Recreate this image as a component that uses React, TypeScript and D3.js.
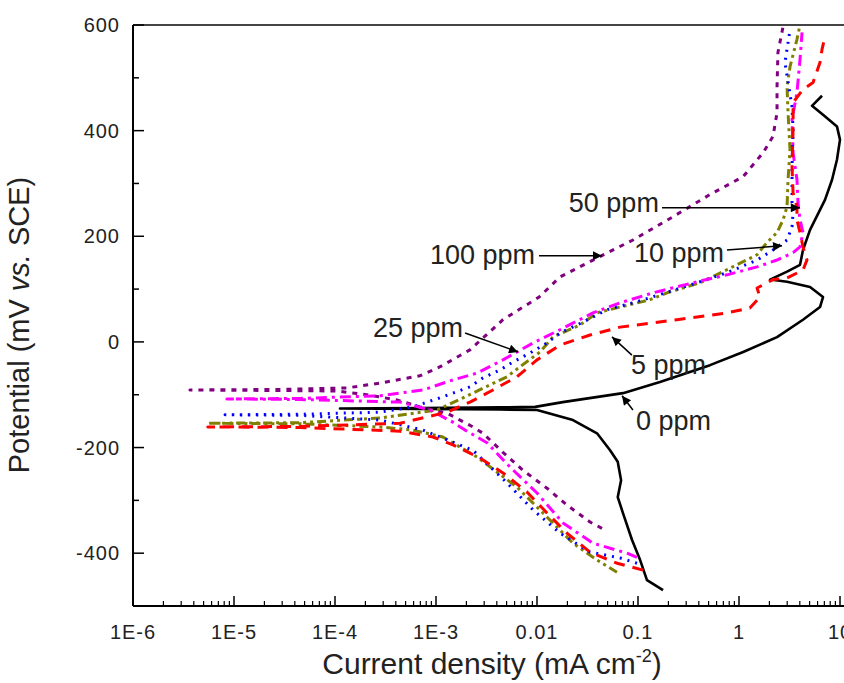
import React from 'react';
import * as d3 from 'd3';

const W = 844;
const H = 683;
const M = { left: 133, right: 840, top: 25, bottom: 606 };

const X_TICKS = [1e-6, 1e-5, 1e-4, 1e-3, 0.01, 0.1, 1, 10];
const X_TICK_LABELS = ['1E-6', '1E-5', '1E-4', '1E-3', '0.01', '0.1', '1', '10'];
const Y_TICKS = [-400, -200, 0, 200, 400, 600];
const Y_MINOR = [-500, -300, -100, 100, 300, 500];

// 0 ppm (black)
const ppm0I = [0.177, 0.1227, 0.105, 0.0873, 0.071, 0.063, 0.068, 0.063, 0.0529, 0.0393, 0.0227, 0.01, 0.0043, 6.9e-4, 1.12e-4, 6.9e-4, 0.0043, 0.0096, 0.018, 0.071, 0.165, 0.516, 1.1, 2.38, 4.3, 6.34, 6.79, 5.05, 2.99, 2.03, 2.99, 4.02, 4.3, 5.05, 7.1, 8.34, 9.33, 10.0, 9.33, 6.79, 5.28, 6.64];
const ppm0E = [-470, -451, -413, -375, -324, -294, -262, -227, -205, -173, -148, -129, -128, -127, -126, -125, -124, -123, -114, -97, -76, -44, -19, 9, 42, 66, 85, 104, 114, 118, 133, 146, 174, 212, 269, 307, 345, 383, 408, 430, 447, 466];

// 5 ppm (red)
const ppm5I = [0.1122, 0.0619, 0.0335, 0.0198, 0.01256, 7.96e-3, 4.6e-3, 2.73e-3, 1.47e-3, 9.33e-4, 4.41e-4, 4.5e-5, 5.5e-6, 4.5e-5, 4.41e-4, 1.29e-3, 2.17e-3, 3.66e-3, 6.34e-3, 0.01, 0.0169, 0.0335, 0.0664, 0.141, 0.243, 0.384, 0.76, 1.28, 1.61, 1.51, 2.17, 2.99, 4.3, 4.71, 4.3, 4.02, 3.75, 3.75, 3.43, 3.35, 3.43, 3.43, 4.3, 5.41, 6.34, 6.64, 7.1];
const ppm5E = [-432, -419, -398, -362, -324, -284, -248, -220, -195, -180, -169, -162, -161, -160, -154, -133, -114, -91, -66, -34, -6, 13, 28, 36, 42, 47, 55, 64, 85, 102, 118, 121, 136, 155, 180, 207, 231, 256, 282, 332, 402, 453, 478, 491, 529, 554, 578];

// 10 ppm (blue)
const ppm10I = [0.0977, 0.0664, 0.0335, 0.0169, 9.12e-3, 5.05e-3, 2.32e-3, 1.47e-3, 7.43e-4, 2.79e-4, 4.5e-5, 8.15e-6, 4.5e-5, 2.79e-4, 5.92e-4, 1.17e-3, 2.17e-3, 2.92e-3, 4.31e-3, 5.78e-3, 8.53e-3, 0.01256, 0.0169, 0.0249, 0.0358, 0.0493, 0.0977, 0.384, 0.76, 1.51, 2.17, 2.99, 3.35, 3.43, 3.35, 3.35, 3.43, 3.35, 2.85, 3.2];
const ppm10E = [-419, -409, -398, -362, -318, -267, -205, -190, -167, -148, -139, -138, -137, -133, -123, -104, -85, -68, -53, -38, -21, -2, 17, 32, 47, 61, 76, 112, 131, 155, 174, 193, 218, 245, 264, 332, 402, 445, 529, 591];

// 25 ppm (magenta)
const ppm25I = [0.0977, 0.0778, 0.0358, 0.0181, 0.01, 5.41e-3, 3.2e-3, 1.94e-3, 1.47e-3, 8.73e-4, 4.41e-4, 4.5e-5, 8.5e-6, 4.5e-5, 2.79e-4, 7.43e-4, 1.47e-3, 2.55e-3, 4.6e-3, 6.34e-3, 9.12e-3, 0.0169, 0.0358, 0.0664, 0.141, 0.351, 0.76, 1.51, 2.38, 3.43, 4.02, 4.3, 4.02, 3.84, 3.75, 3.43, 3.35, 3.75, 4.02, 4.21];
const ppm25E = [-408, -400, -381, -343, -286, -237, -191, -167, -152, -129, -114, -109, -108, -107, -102, -91, -72, -59, -34, -19, -2, 23, 55, 74, 93, 112, 127, 142, 155, 169, 180, 207, 231, 264, 307, 358, 421, 472, 535, 586];

// 50 ppm (olive)
const ppm50I = [0.0619, 0.0393, 0.0227, 0.01146, 6.34e-3, 2.55e-3, 1.17e-3, 5.92e-4, 2.79e-4, 4.5e-5, 5.5e-6, 4.5e-5, 2.79e-4, 1.02e-3, 1.85e-3, 3.13e-3, 5.05e-3, 6.79e-3, 0.01072, 0.0144, 0.0267, 0.0393, 0.0664, 0.1315, 0.194, 0.411, 0.955, 1.51, 1.89, 2.38, 2.73, 2.99, 3.06, 3.2, 3.06, 2.99, 3.2, 3.75, 4.02];
const ppm50E = [-436, -413, -381, -324, -275, -218, -180, -167, -161, -155, -154, -153, -144, -129, -106, -85, -66, -47, -19, 9.5, 32, 55, 66, 80, 93, 112, 146, 165, 188, 207, 231, 256, 307, 364, 434, 483, 521, 573, 600];

// 100 ppm (purple)
const ppm100I = [0.044, 0.0335, 0.0198, 0.01256, 7.26e-3, 4.6e-3, 2.92e-3, 2.32e-3, 1.73e-3, 1.29e-3, 6.95e-4, 4.11e-4, 2.07e-4, 1.05e-4, 2.85e-5, 3.66e-6, 2.85e-5, 1.32e-4, 2.79e-4, 6.95e-4, 1.1e-3, 2.17e-3, 4.6e-3, 0.0105, 0.0169, 0.0358, 0.0891, 0.222, 0.516, 1.1, 1.73, 2.17, 2.38, 2.38, 2.43, 2.73];
const ppm100E = [-353, -341, -309, -277, -243, -209, -173, -161, -148, -135, -123, -110, -100, -93, -92, -91, -90, -87, -78, -64, -47, -15, 42, 85, 123, 155, 193, 237, 279, 313, 358, 389, 434, 483, 548, 597];

const SERIES = [
  { name: '0 ppm', I: ppm0I, E: ppm0E, color: '#000000', dash: 'none', width: 2.6 },
  { name: '100 ppm', I: ppm100I, E: ppm100E, color: '#800080', dash: '5,6', width: 3 },
  { name: '50 ppm', I: ppm50I, E: ppm50E, color: '#808000', dash: '9,4,3,4,3,4', width: 3 },
  { name: '10 ppm', I: ppm10I, E: ppm10E, color: '#0000ff', dash: '2,6', width: 3 },
  { name: '25 ppm', I: ppm25I, E: ppm25E, color: '#ff00ff', dash: '11,5,3,5', width: 3 },
  { name: '5 ppm', I: ppm5I, E: ppm5E, color: '#ff0000', dash: '11,8', width: 3 },
];

const ANNOTATIONS = [
  { text: '50 ppm', tx: 0.161, ty: 263, anchor: 'end', from: [0.173, 254], to: [4.0, 254] },
  { text: '100 ppm', tx: 0.00955, ty: 165, anchor: 'end', from: [0.01047, 163], to: [0.044, 163] },
  { text: '10 ppm', tx: 0.71, ty: 169, anchor: 'end', from: [0.76, 174], to: [2.67, 182] },
  { text: '25 ppm', tx: 0.00185, ty: 28, anchor: 'end', from: [0.00194, 17], to: [0.00649, -19] },
  { text: '5 ppm', tx: 0.0853, ty: -42, anchor: 'start', from: [0.087, -25], to: [0.0553, 9.5] },
  { text: '0 ppm', tx: 0.0955, ty: -148, anchor: 'start', from: [0.0891, -129], to: [0.0695, -102] },
];

const FONT = "'Liberation Sans', Arial, sans-serif";

export default function App() {
  const x = d3.scaleLog().domain([1e-6, 10]).range([M.left, M.right]);
  const y = d3.scaleLinear().domain([-500, 600]).range([M.bottom, M.top]);
  const line = d3
    .line<[number, number]>()
    .x((d) => x(d[0]))
    .y((d) => y(d[1]))
    .curve(d3.curveLinear);

  const minorX = x.ticks().filter((t) => {
    const l = Math.log10(t);
    return Math.abs(l - Math.round(l)) > 1e-6;
  });

  return (
    <svg width={W} height={H} style={{ position: 'absolute', left: 0, top: 0, background: '#fff' }} fontFamily={FONT}>
      <defs>
        <clipPath id="plot">
          <rect x={M.left} y={M.top - 2} width={M.right - M.left + 4} height={M.bottom - M.top + 2} />
        </clipPath>
        <marker id="arr" viewBox="0 0 10 10" refX="10" refY="5" markerWidth="13" markerHeight="9" markerUnits="userSpaceOnUse" orient="auto">
          <path d="M0,0 L10,5 L0,10 z" fill="#000" />
        </marker>
      </defs>
      <rect x={0} y={0} width={W} height={H} fill="#fff" />

      {/* series */}
      <g clipPath="url(#plot)">
        {SERIES.map((s) => (
          <path
            key={s.name}
            d={line(s.I.map((v, i) => [v, s.E[i]] as [number, number])) || ''}
            fill="none"
            stroke={s.color}
            strokeWidth={s.width}
            strokeDasharray={s.dash}
            strokeLinejoin="round"
          />
        ))}
      </g>

      {/* frame */}
      <line x1={M.left} x2={W} y1={M.top} y2={M.top} stroke="#444" strokeWidth={2} />
      <line x1={M.left} x2={M.left} y1={M.top} y2={M.bottom} stroke="#000" strokeWidth={2} />
      <line x1={M.left} x2={W} y1={M.bottom} y2={M.bottom} stroke="#000" strokeWidth={2} />

      {/* y ticks */}
      {Y_TICKS.map((t) => (
        <g key={'y' + t}>
          <line x1={M.left} x2={M.left + 11} y1={y(t)} y2={y(t)} stroke="#000" strokeWidth={1.5} />
          <text x={120} y={y(t)} dy="0.35em" textAnchor="end" fontSize={20} fill="#222" letterSpacing={1}>
            {t}
          </text>
        </g>
      ))}
      {Y_MINOR.map((t) => (
        <line key={'ym' + t} x1={M.left} x2={M.left + 6} y1={y(t)} y2={y(t)} stroke="#000" strokeWidth={1.5} />
      ))}

      {/* x ticks */}
      {X_TICKS.map((t, i) => (
        <g key={'x' + t}>
          <line x1={x(t)} x2={x(t)} y1={M.bottom} y2={M.bottom - 10} stroke="#000" strokeWidth={1.5} />
          <text x={x(t)} y={639} textAnchor="middle" fontSize={20} fill="#222" letterSpacing={1}>
            {X_TICK_LABELS[i]}
          </text>
        </g>
      ))}
      {minorX.map((t) => (
        <line key={'xm' + t} x1={x(t)} x2={x(t)} y1={M.bottom} y2={M.bottom - 5} stroke="#000" strokeWidth={1.2} />
      ))}

      {/* axis titles */}
      <text x={492} y={674} textAnchor="middle" fontSize={30} fill="#222">
        Current density (mA cm<tspan dy={-12} fontSize={18}>-2</tspan>
        <tspan dy={12}>)</tspan>
      </text>
      <text transform="translate(29,325) rotate(-90)" textAnchor="middle" fontSize={29} fill="#222">
        Potential (mV <tspan fontStyle="italic">vs.</tspan> SCE)
      </text>

      {/* annotations */}
      {ANNOTATIONS.map((a) => (
        <g key={a.text}>
          <line
            x1={x(a.from[0])}
            y1={y(a.from[1])}
            x2={x(a.to[0])}
            y2={y(a.to[1])}
            stroke="#000"
            strokeWidth={1.5}
            markerEnd="url(#arr)"
          />
          <text x={x(a.tx)} y={y(a.ty)} dy="0.35em" textAnchor={a.anchor} fontSize={27} fill="#222">
            {a.text}
          </text>
        </g>
      ))}
    </svg>
  );
}
